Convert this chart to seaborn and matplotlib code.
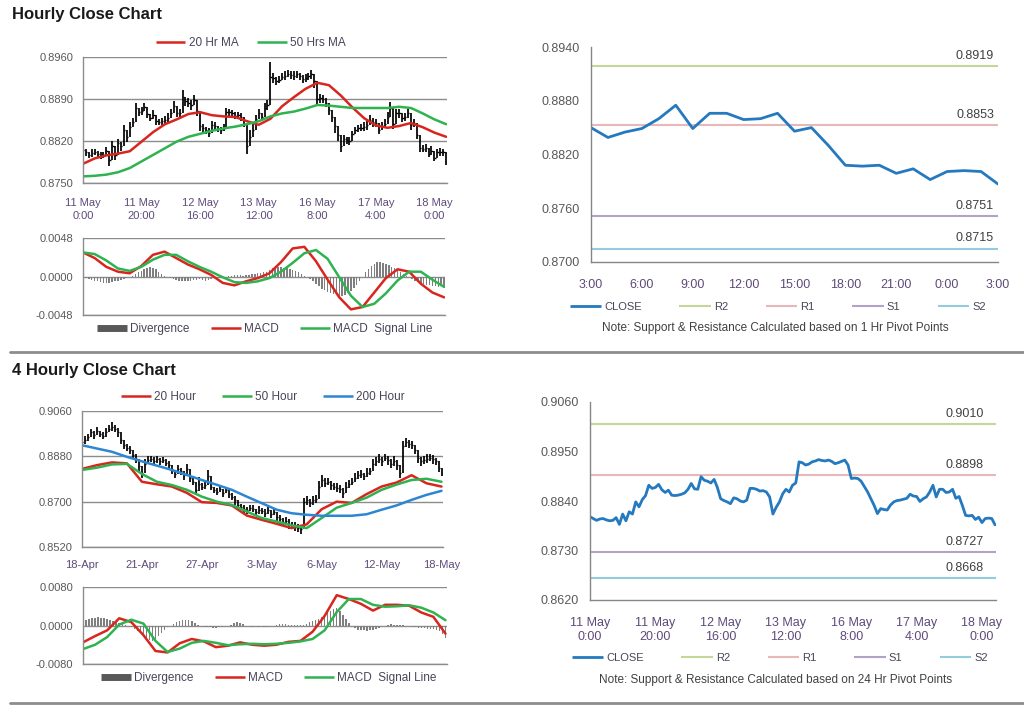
import numpy as np
import matplotlib
matplotlib.use("Agg")
import matplotlib.pyplot as plt
import seaborn as sns
from matplotlib.lines import Line2D

sns.set_theme(style="white")
plt.rcParams['font.family'] = ['Liberation Sans', 'DejaVu Sans']

# ---------------- Hourly data (125 hourly bars, 11 May 0:00 -> 18 May 4:00) ----------------
hourly_close = [
 0.8805, 0.8801, 0.8797, 0.8800, 0.8801, 0.8798, 0.8796, 0.8797, 0.8803, 0.8788,
 0.8811, 0.8796, 0.8816, 0.8811, 0.8838, 0.8827, 0.8843, 0.8852, 0.8875, 0.8868,
 0.8870, 0.8877, 0.8865, 0.8859, 0.8864, 0.8853, 0.8852, 0.8853, 0.8855, 0.8858,
 0.8866, 0.8879, 0.8867, 0.8866, 0.8894, 0.8886, 0.8884, 0.8880, 0.8888, 0.8870,
 0.8845, 0.8841, 0.8838, 0.8834, 0.8847, 0.8845, 0.8840, 0.8838, 0.8842, 0.8868,
 0.8868, 0.8866, 0.8862, 0.8863, 0.8860, 0.8849, 0.8811, 0.8826, 0.8838, 0.8856,
 0.8866, 0.8860, 0.8875, 0.8880, 0.8927, 0.8925, 0.8920, 0.8922, 0.8927, 0.8929,
 0.8932, 0.8930, 0.8929, 0.8931, 0.8928, 0.8923, 0.8925, 0.8928, 0.8931, 0.8920,
 0.8890, 0.8891, 0.8890, 0.8884, 0.8872, 0.8860, 0.8845, 0.8830, 0.8812, 0.8823,
 0.8821, 0.8820, 0.8831, 0.8838, 0.8841, 0.8842, 0.8844, 0.8846, 0.8855, 0.8851,
 0.8850, 0.8839, 0.8845, 0.8849, 0.8860, 0.8875, 0.8849, 0.8866, 0.8866, 0.8859,
 0.8860, 0.8866, 0.8846, 0.8850, 0.8830, 0.8808, 0.8807, 0.8808, 0.8799, 0.8804,
 0.8792, 0.8801, 0.8802, 0.8801, 0.8787]
# high-low length of each hourly bar, in pips
hourly_range = [
 10, 12, 10, 14, 10, 12, 12, 10, 14, 20,
 18, 14, 16, 14, 18, 16, 16, 14, 18, 14,
 14, 12, 14, 12, 14, 12, 10, 12, 14, 16,
 14, 16, 14, 16, 22, 16, 14, 16, 16, 18,
 18, 14, 12, 14, 12, 12, 10, 12, 12, 14,
 12, 12, 12, 10, 12, 12, 24, 26, 20, 16,
 16, 14, 18, 16, 50, 16, 14, 12, 12, 14,
 12, 12, 14, 12, 12, 14, 12, 12, 14, 22,
 18, 14, 12, 14, 16, 16, 22, 20, 22, 14,
 12, 14, 12, 12, 12, 12, 14, 14, 16, 14,
 14, 14, 12, 14, 16, 20, 18, 16, 14, 14,
 14, 14, 16, 14, 14, 12, 12, 14, 12, 14,
 12, 12, 14, 12, 14]
hourly_ticks = ["11 May\n0:00", "11 May\n20:00", "12 May\n16:00", "13 May\n12:00",
                "16 May\n8:00", "17 May\n4:00", "18 May\n0:00"]
hourly_yticks = [0.8750, 0.8820, 0.8890, 0.8960]

# moving averages sampled every 4 bars (bars 0, 4, ..., 124)
ma20_hr = [0.8782, 0.8791, 0.8796, 0.8799, 0.8803, 0.8819, 0.8835, 0.8848, 0.8856, 0.8865,
           0.8868, 0.8863, 0.8861, 0.8860, 0.8853, 0.8847, 0.8857, 0.8878, 0.8893, 0.8907,
           0.8917, 0.8913, 0.8896, 0.8876, 0.8858, 0.8846, 0.8842, 0.8845, 0.8850, 0.8843,
           0.8834, 0.8827]
ma50_hr = [0.8761, 0.8762, 0.8764, 0.8768, 0.8775, 0.8786, 0.8797, 0.8808, 0.8819, 0.8827,
           0.8832, 0.8837, 0.8841, 0.8844, 0.8848, 0.8853, 0.8861, 0.8866, 0.8869, 0.8874,
           0.8880, 0.8879, 0.8877, 0.8875, 0.8875, 0.8875, 0.8875, 0.8877, 0.8875, 0.8866,
           0.8856, 0.8848]
macd_hr = [0.0030, 0.0023, 0.0012, 0.0006, 0.0004, 0.0013, 0.0027, 0.0031, 0.0023, 0.0015,
           0.0009, 0.0002, -0.0008, -0.0011, -0.0006, -0.0002, 0.0004, 0.0018, 0.0035, 0.0037,
           0.0019, -0.0004, -0.0026, -0.0041, -0.0038, -0.0020, -0.0002, 0.0009, 0.0006, -0.0009,
           -0.0020, -0.0026]
signal_hr = [0.0030, 0.0028, 0.0020, 0.0010, 0.0007, 0.0012, 0.0021, 0.0027, 0.0027, 0.0019,
             0.0012, 0.0006, -0.0001, -0.0007, -0.0008, -0.0006, -0.0002, 0.0006, 0.0017, 0.0029,
             0.0033, 0.0022, -0.0001, -0.0024, -0.0038, -0.0034, -0.0021, -0.0005, 0.0006, 0.0006,
             -0.0004, -0.0013]
diverg_hr = [
 -0.0001, -0.0002, -0.0003, -0.0004, -0.0005, -0.0006, -0.0007, -0.0008, -0.0008, -0.0008,
 -0.0007, -0.0006, -0.0005, -0.0004, -0.0003, -0.0002, -0.0001, 0.0001, 0.0003, 0.0005,
 0.0007, 0.0009, 0.0011, 0.0012, 0.0011, 0.0009, 0.0006, 0.0003, 0.0001, -0.0001,
 -0.0002, -0.0003, -0.0004, -0.0005, -0.0006, -0.0006, -0.0005, -0.0005, -0.0004, -0.0004,
 -0.0003, -0.0004, -0.0005, -0.0004, -0.0003, -0.0002, -0.0002, -0.0001, -0.0001, 0.0000,
 0.0001, 0.0001, 0.0002, 0.0002, 0.0002, 0.0001, 0.0002, 0.0002, 0.0003, 0.0003,
 0.0004, 0.0004, 0.0005, 0.0006, 0.0008, 0.0010, 0.0011, 0.0012, 0.0012, 0.0011,
 0.0010, 0.0009, 0.0008, 0.0007, 0.0005, 0.0003, 0.0001, -0.0001, -0.0003, -0.0006,
 -0.0009, -0.0012, -0.0015, -0.0017, -0.0019, -0.0021, -0.0022, -0.0023, -0.0024, -0.0024,
 -0.0023, -0.0021, -0.0018, -0.0014, -0.0010, -0.0005, 0.0000, 0.0005, 0.0009, 0.0013,
 0.0016, 0.0018, 0.0018, 0.0017, 0.0016, 0.0014, 0.0012, 0.0010, 0.0008, 0.0005,
 0.0003, 0.0001, -0.0001, -0.0003, -0.0005, -0.0007, -0.0008, -0.0009, -0.0010, -0.0011,
 -0.0012, -0.0012, -0.0013, -0.0012, -0.0012]
macd_hr_yticks = [-0.0048, 0.0000, 0.0048]

# 1 Hr pivots (last 24 hours, 3:00 -> 3:00)
last24_ticks = ["3:00", "6:00", "9:00", "12:00", "15:00", "18:00", "21:00", "0:00", "3:00"]
last24_yticks = [0.8700, 0.8760, 0.8820, 0.8880, 0.8940]
pivot_1hr = {"R2": 0.8919, "R1": 0.8853, "S1": 0.8751, "S2": 0.8715}
# 24 Hr pivots
pivot_24hr = {"R2": 0.9010, "R1": 0.8898, "S1": 0.8727, "S2": 0.8668}
hourly_line_yticks = [0.8620, 0.8730, 0.8840, 0.8950, 0.9060]

# ---------------- 4-hourly data (121 bars, 18-Apr -> 18-May) ----------------
fourh_close = [
 0.8935, 0.8945, 0.8955, 0.8975, 0.8965, 0.8980, 0.8970, 0.8962, 0.8975, 0.8990,
 0.8998, 0.8990, 0.8975, 0.8945, 0.8925, 0.8915, 0.8905, 0.8885, 0.8870, 0.8840,
 0.8815, 0.8850, 0.8865, 0.8870, 0.8862, 0.8868, 0.8860, 0.8866, 0.8855, 0.8845,
 0.8825, 0.8810, 0.8830, 0.8820, 0.8805, 0.8830, 0.8795, 0.8780, 0.8745, 0.8770,
 0.8760, 0.8765, 0.8800, 0.8760, 0.8745, 0.8740, 0.8750, 0.8735, 0.8745, 0.8730,
 0.8720, 0.8705, 0.8685, 0.8680, 0.8670, 0.8665, 0.8675, 0.8672, 0.8660, 0.8668,
 0.8662, 0.8655, 0.8665, 0.8650, 0.8658, 0.8640, 0.8630, 0.8620, 0.8625, 0.8610,
 0.8605, 0.8600, 0.8595, 0.8590, 0.8700, 0.8705, 0.8695, 0.8705, 0.8710, 0.8760,
 0.8785, 0.8775, 0.8780, 0.8765, 0.8760, 0.8755, 0.8750, 0.8735, 0.8760, 0.8770,
 0.8780, 0.8795, 0.8805, 0.8810, 0.8800, 0.8815, 0.8820, 0.8850, 0.8860, 0.8870,
 0.8860, 0.8875, 0.8865, 0.8850, 0.8860, 0.8845, 0.8815, 0.8920, 0.8935, 0.8930,
 0.8925, 0.8905, 0.8875, 0.8860, 0.8865, 0.8870, 0.8875, 0.8868, 0.8860, 0.8835,
 0.8815]
fourh_range = [
 25, 30, 25, 30, 35, 30, 25, 30, 35, 30,
 35, 30, 35, 35, 30, 30, 35, 30, 35, 45,
 40, 35, 30, 25, 30, 25, 30, 25, 30, 35,
 30, 35, 30, 30, 35, 40, 35, 30, 35, 55,
 30, 30, 50, 30, 25, 30, 25, 30, 25, 30,
 30, 35, 30, 25, 30, 25, 25, 30, 25, 30,
 25, 30, 25, 30, 25, 30, 35, 30, 30, 40,
 30, 35, 30, 35, 30, 35, 30, 35, 30, 45,
 40, 35, 30, 35, 30, 35, 30, 40, 35, 35,
 30, 35, 30, 35, 30, 35, 30, 40, 35, 35,
 35, 30, 35, 35, 40, 40, 45, 40, 35, 30,
 30, 35, 40, 35, 30, 35, 30, 35, 30, 35,
 30]
fourh_ticks = ["18-Apr", "21-Apr", "27-Apr", "3-May", "6-May", "12-May", "18-May"]
fourh_yticks = [0.8520, 0.8700, 0.8880, 0.9060]
# moving averages sampled every 5 bars (0, 5, ..., 120)
ma20_4h = [0.8830, 0.8845, 0.8856, 0.8852, 0.8779, 0.8769, 0.8760, 0.8735, 0.8698, 0.8695,
           0.8685, 0.8645, 0.8628, 0.8612, 0.8595, 0.8610, 0.8670, 0.8700, 0.8695, 0.8730,
           0.8760, 0.8776, 0.8805, 0.8773, 0.8760]
ma50_4h = [0.8826, 0.8835, 0.8848, 0.8850, 0.8810, 0.8779, 0.8766, 0.8747, 0.8720, 0.8700,
           0.8687, 0.8661, 0.8635, 0.8621, 0.8606, 0.8595, 0.8635, 0.8676, 0.8695, 0.8716,
           0.8747, 0.8768, 0.8786, 0.8791, 0.8779]
ma200_4h = [0.8924, 0.8911, 0.8898, 0.8878, 0.8860, 0.8843, 0.8826, 0.8806, 0.8786, 0.8767,
            0.8747, 0.8720, 0.8694, 0.8668, 0.8654, 0.8648, 0.8644, 0.8644, 0.8644, 0.8650,
            0.8668, 0.8685, 0.8707, 0.8727, 0.8743]
# MACD sampled every 4 bars (0, 4, ..., 120)
macd_4h = [-0.0035, -0.0022, -0.0010, 0.0015, 0.0007, -0.0020, -0.0053, -0.0056, -0.0037, -0.0028,
           -0.0033, -0.0045, -0.0042, -0.0035, -0.0040, -0.0042, -0.0040, -0.0034, -0.0032, -0.0013,
           0.0020, 0.0063, 0.0055, 0.0045, 0.0031, 0.0043, 0.0043, 0.0041, 0.0027, 0.0018,
           -0.0017]
signal_4h = [-0.0049, -0.0040, -0.0024, 0.0002, 0.0012, 0.0004, -0.0032, -0.0055, -0.0048, -0.0036,
             -0.0032, -0.0036, -0.0041, -0.0039, -0.0038, -0.0039, -0.0038, -0.0036, -0.0033, -0.0028,
             -0.0010, 0.0028, 0.0055, 0.0055, 0.0043, 0.0039, 0.0040, 0.0042, 0.0037, 0.0027,
             0.0011]
diverg_4h = [
 0.0010, 0.0012, 0.0014, 0.0015, 0.0016, 0.0017, 0.0016, 0.0015, 0.0014, 0.0012,
 0.0010, 0.0008, 0.0006, 0.0004, 0.0002, 0.0000, -0.0004, -0.0008, -0.0012, -0.0016,
 -0.0020, -0.0025, -0.0030, -0.0032, -0.0028, -0.0022, -0.0016, -0.0010, -0.0004, 0.0000,
 0.0004, 0.0008, 0.0010, 0.0012, 0.0012, 0.0011, 0.0009, 0.0006, 0.0002, -0.0002,
 -0.0003, -0.0004, -0.0004, -0.0005, -0.0005, -0.0004, -0.0003, -0.0002, -0.0001, 0.0002,
 0.0005, 0.0007, 0.0006, 0.0003, -0.0001, -0.0002, -0.0003, -0.0002, -0.0003, -0.0002,
 -0.0003, -0.0003, -0.0002, -0.0001, 0.0001, 0.0003, 0.0004, 0.0003, 0.0002, 0.0001,
 0.0002, 0.0001, 0.0001, 0.0002, 0.0004, 0.0007, 0.0009, 0.0011, 0.0014, 0.0018,
 0.0022, 0.0026, 0.0030, 0.0034, 0.0036, 0.0030, 0.0022, 0.0014, 0.0006, -0.0002,
 -0.0006, -0.0009, -0.0010, -0.0010, -0.0011, -0.0010, -0.0010, -0.0008, -0.0005, -0.0002,
 0.0000, 0.0002, 0.0003, 0.0002, 0.0002, 0.0001, 0.0001, 0.0000, -0.0002, -0.0003,
 -0.0004, -0.0005, -0.0006, -0.0006, -0.0007, -0.0007, -0.0008, -0.0010, -0.0012, -0.0018,
 -0.0025]
macd_4h_yticks = [-0.0080, 0.0000, 0.0080]

# ---------------- styling ----------------
RED = "#D8261F"
GREEN = "#2EB350"
BLUE200 = "#2D86D2"
CLOSE_C = "#2479BF"
PIVOT_C = {"R2": "#C4D79B", "R1": "#E6B9B8", "S1": "#B3A2C7", "S2": "#93CDDD"}
GRID = "#8C8C8C"
YLAB = "#595959"
XLAB = "#5E4A78"
LEGC = "#4A4458"

W, H = 1024, 706
fig = plt.figure(figsize=(W / 100, H / 100), dpi=100)


def add_ax(l, t, r, b):
    return fig.add_axes([l / W, 1 - b / H, (r - l) / W, (b - t) / H])


def style_left(ax, yticks, fmt, xmax, xticks, xlabels, xpad=6, lsp=1.2):
    ax.set_ylim(yticks[0], yticks[-1])
    ax.set_yticks(yticks)
    ax.set_yticklabels([fmt.format(v) for v in yticks])
    ax.set_xlim(0, xmax)
    ax.set_xticks(xticks)
    ax.yaxis.grid(True, color=GRID, lw=1.0)
    ax.xaxis.grid(False)
    ax.set_axisbelow(True)
    for s in ["top", "right"]:
        ax.spines[s].set_visible(False)
    for s in ["left", "bottom"]:
        ax.spines[s].set_color(GRID)
        ax.spines[s].set_linewidth(1.0)
    ax.tick_params(axis="y", length=4, width=1, color=GRID, labelsize=8, labelcolor=YLAB, pad=3)
    if xlabels is None:
        ax.set_xticklabels([])
        ax.tick_params(axis="x", length=0)
    else:
        ax.set_xticklabels(xlabels, linespacing=lsp)
        ax.tick_params(axis="x", length=3, width=1, color=GRID, labelsize=8, labelcolor=XLAB, pad=xpad)
    ax.set_xlabel("")
    ax.set_ylabel("")


def legend(ax, handles, labels, cx, cy, colsp, fs=8.5, hl=2.5):
    lg = ax.legend(handles, labels, loc="center", bbox_to_anchor=(cx / W, 1 - cy / H),
                   bbox_transform=fig.transFigure, ncol=len(labels), frameon=False,
                   fontsize=fs, handlelength=hl, handletextpad=0.3, columnspacing=colsp,
                   borderpad=0, borderaxespad=0)
    for t in lg.get_texts():
        t.set_color(LEGC)
    return lg


def lined(c, lw=1.8):
    return Line2D([0], [0], color=c, lw=lw, solid_capstyle="butt")


def price_bars(ax, close, rng):
    # HLC-style bars; each bar also reaches back to the previous close (its open)
    x = np.arange(len(close))
    c = np.array(close)
    half = np.array(rng) / 2e4
    prev = np.concatenate([[c[0]], c[:-1]])
    lo = np.minimum(c - half, prev)
    hi = np.maximum(c + half, prev)
    ax.vlines(x, lo, hi, color="black", lw=1.25)
    ax.hlines(c, x, x + 0.45, color="black", lw=1.0)


# ---------- Hourly price panel ----------
x_hr = np.arange(len(hourly_close))
ax1 = add_ax(83, 57, 447, 183)
price_bars(ax1, hourly_close, hourly_range)
x_ma_hr = np.arange(0, 125, 4)
sns.lineplot(x=x_ma_hr, y=ma20_hr, ax=ax1, color=RED, lw=1.8, estimator=None)
sns.lineplot(x=x_ma_hr, y=ma50_hr, ax=ax1, color=GREEN, lw=1.8, estimator=None)
style_left(ax1, hourly_yticks, "{:.4f}", 124.3, np.arange(0, 121, 20), hourly_ticks, xpad=8, lsp=1.35)
legend(ax1, [lined(RED), lined(GREEN)], ["20 Hr MA", "50 Hrs MA"], 251, 43, 1.6)

# ---------- Hourly MACD panel ----------
ax2 = add_ax(83, 238, 445, 315)
ax2.bar(x_hr, diverg_hr, width=0.5, color="#7F7F7F", lw=0)
sns.lineplot(x=x_ma_hr, y=macd_hr, ax=ax2, color=RED, lw=1.8, estimator=None)
sns.lineplot(x=x_ma_hr, y=signal_hr, ax=ax2, color=GREEN, lw=1.8, estimator=None)
style_left(ax2, macd_hr_yticks, "{:.4f}", 124.3, np.arange(0, 121, 20), None)
legend(ax2, [lined("#595959", 5), lined(RED), lined(GREEN)],
       ["Divergence", "MACD", "MACD  Signal Line"], 265, 329, 1.8)

# ---------- right panels helper ----------
def style_right(ax, yticks, xmax, xticks, xlabels, lsp=1.2):
    ax.set_ylim(yticks[0], yticks[-1])
    ax.set_yticks(yticks)
    ax.set_yticklabels(["{:.4f}".format(v) for v in yticks])
    ax.set_xlim(0, xmax)
    ax.set_xticks(xticks)
    ax.set_xticklabels(xlabels, linespacing=lsp)
    ax.grid(False)
    for s in ["top", "right"]:
        ax.spines[s].set_visible(False)
    for s in ["left", "bottom"]:
        ax.spines[s].set_color("#868686")
        ax.spines[s].set_linewidth(1.0)
    ax.tick_params(axis="y", length=4, width=1, color="#868686", labelsize=9, labelcolor=YLAB, pad=4)
    ax.tick_params(axis="x", length=4, width=1, color="#868686", labelsize=9, labelcolor=XLAB, pad=8)
    ax.set_xlabel("")
    ax.set_ylabel("")


def pivots(ax, levels, xfrac):
    handles = []
    for name, v in levels.items():
        ax.axhline(v, color=PIVOT_C[name], lw=1.5)
        ax.annotate("{:.4f}".format(v), xy=(xfrac, v), xycoords=("axes fraction", "data"),
                    xytext=(0, 3), textcoords="offset points", ha="right", va="bottom",
                    fontsize=9, color="#404040")
        handles.append(lined(PIVOT_C[name], 1.5))
    return handles


# ---------- last 24 hours with 1 Hr pivots ----------
ax3 = add_ax(591, 47, 998, 262)
last24 = hourly_close[100:125]
h3 = pivots(ax3, pivot_1hr, 0.99)
sns.lineplot(x=np.arange(len(last24)), y=last24, ax=ax3, color=CLOSE_C, lw=2.0, estimator=None)
style_right(ax3, last24_yticks, 24, np.arange(0, 25, 3), last24_ticks)
legend(ax3, [lined(CLOSE_C, 2.0)] + h3, ["CLOSE", "R2", "R1", "S1", "S2"], 778, 307, 3.4, fs=8, hl=2.8)
fig.text(775 / W, 1 - 328 / H, "Note: Support & Resistance Calculated based on 1 Hr Pivot Points",
         ha="center", va="center", fontsize=8.5, color="#404040")

# ---------- 4-hourly price panel ----------
x_4h = np.arange(len(fourh_close))
ax4 = add_ax(82, 411, 443, 547)
price_bars(ax4, fourh_close, fourh_range)
x_ma_4h = np.arange(0, 121, 5)
sns.lineplot(x=x_ma_4h, y=ma20_4h, ax=ax4, color=RED, lw=1.8, estimator=None)
sns.lineplot(x=x_ma_4h, y=ma50_4h, ax=ax4, color=GREEN, lw=1.8, estimator=None)
sns.lineplot(x=x_ma_4h, y=ma200_4h, ax=ax4, color=BLUE200, lw=1.8, estimator=None)
style_left(ax4, fourh_yticks, "{:.4f}", 120.5, np.arange(0, 121, 20), fourh_ticks)
legend(ax4, [lined(RED), lined(GREEN), lined(BLUE200)], ["20 Hour", "50 Hour", "200 Hour"], 263, 397, 2.2)

# ---------- 4-hourly MACD panel ----------
ax5 = add_ax(83, 587, 447, 664)
ax5.bar(x_4h, diverg_4h, width=0.5, color="#7F7F7F", lw=0)
x_macd_4h = np.arange(0, 121, 4)
sns.lineplot(x=x_macd_4h, y=macd_4h, ax=ax5, color=RED, lw=1.8, estimator=None)
sns.lineplot(x=x_macd_4h, y=signal_4h, ax=ax5, color=GREEN, lw=1.8, estimator=None)
style_left(ax5, macd_4h_yticks, "{:.4f}", 120.5, np.arange(0, 121, 20), None)
legend(ax5, [lined("#595959", 5), lined(RED), lined(GREEN)],
       ["Divergence", "MACD", "MACD  Signal Line"], 269, 678, 1.8)

# ---------- hourly close with 24 Hr pivots ----------
ax6 = add_ax(590, 402, 996, 600)
h6 = pivots(ax6, pivot_24hr, 0.97)
sns.lineplot(x=x_hr, y=hourly_close, ax=ax6, color=CLOSE_C, lw=2.0, estimator=None)
style_right(ax6, hourly_line_yticks, 124.3, np.arange(0, 121, 20), hourly_ticks, lsp=1.3)
legend(ax6, [lined(CLOSE_C, 2.0)] + h6, ["CLOSE", "R2", "R1", "S1", "S2"], 780, 658, 3.4, fs=8, hl=2.8)
fig.text(776 / W, 1 - 680 / H, "Note: Support & Resistance Calculated based on 24 Hr Pivot Points",
         ha="center", va="center", fontsize=8.5, color="#404040")

# ---------- titles & separators ----------
fig.text(12 / W, 1 - 15 / H, "Hourly Close Chart", fontsize=12, fontweight="bold",
         va="center", ha="left", color="#1A1A1A")
fig.text(12 / W, 1 - 370 / H, "4 Hourly Close Chart", fontsize=12, fontweight="bold",
         va="center", ha="left", color="#1A1A1A")
for yy in (352, 703):
    fig.add_artist(Line2D([10 / W, 1.0], [1 - yy / H, 1 - yy / H], transform=fig.transFigure,
                          color="#8C8C8C", lw=2))

fig.savefig("out.png", dpi=100)
